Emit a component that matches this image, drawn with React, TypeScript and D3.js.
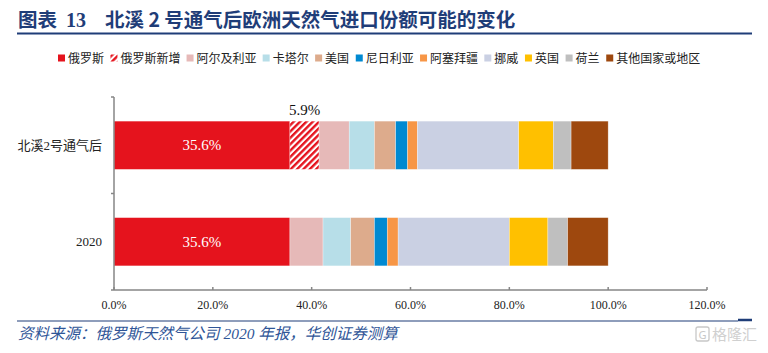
import React from 'react';
import * as d3 from 'd3';

const categories = ['北溪2号通气后', '2020'];
const seriesNames = ['俄罗斯', '俄罗斯新增', '阿尔及利亚', '卡塔尔', '美国', '尼日利亚', '阿塞拜疆', '挪威', '英国', '荷兰', '其他国家或地区'];
const afterValues = [35.6, 5.9, 6.1, 5.1, 4.3, 2.4, 2.0, 20.5, 7.0, 3.6, 7.5];
const values2020 = [35.6, 0, 6.7, 5.6, 4.8, 2.6, 2.2, 22.5, 7.8, 4.0, 8.2];
const xTicks = [0, 20, 40, 60, 80, 100, 120];

const colors = ['#E5131D', 'url(#hatch)', '#E6B9B8', '#B7DEE8', '#DDAB8C', '#0089D1', '#F79646', '#CAD0E3', '#FFC000', '#BFBFBF', '#9E480E'];

const serif = '"Liberation Serif", "Times New Roman", "Noto Sans CJK SC", serif';
const cjk = '"Liberation Serif", "Noto Sans CJK SC", serif';

export default function App() {
  const width = 768, height = 353;
  const margin = { left: 114, right: 61, top: 97, bottom: 63 };

  const x = d3.scaleLinear().domain([0, 120]).range([margin.left, width - margin.right]);
  const y = d3.scaleBand().domain(categories).range([margin.top, height - margin.bottom]).paddingInner(0.5).paddingOuter(0.25);

  const rows = categories.map((c, i) => {
    const vals = i === 0 ? afterValues : values2020;
    const row: any = { cat: c };
    seriesNames.forEach((s, j) => { row[s] = vals[j]; });
    return row;
  });
  const stacked = d3.stack().keys(seriesNames)(rows);

  // legend layout
  const legendFont = 12;
  let lx = 58;
  const legendItems = seriesNames.map((s, i) => {
    const item = { name: s, x: lx, color: colors[i] };
    lx += 7 + 3 + s.length * legendFont * 0.985 + 7;
    return item;
  });

  const axisBottom = y.range()[1];
  const axisTop = y.range()[0];

  return (
    <svg width={width} height={height} style={{ position: 'absolute', left: 0, top: 0, background: '#fff' }}>
      <defs>
        <pattern id="hatch" width="4.5" height="4.5" patternUnits="userSpaceOnUse" patternTransform="rotate(45)">
          <rect width="4.5" height="4.5" fill="#fff" />
          <rect width="2.4" height="4.5" fill="#E5131D" />
        </pattern>
      </defs>

      {/* title */}
      <text x={18} y={27} fontFamily='"Noto Sans CJK SC", sans-serif' fontWeight="bold" fontSize={19.5} fill="#1F3D78">图表</text>
      <text x={66} y={27} fontFamily={serif} fontWeight="bold" fontSize={20} fill="#1F3D78">13</text>
      <text x={105} y={27} fontFamily='"Noto Sans CJK SC", sans-serif' fontWeight="bold" fontSize={19.5} fill="#1F3D78">北溪 2 号通气后欧洲天然气进口份额可能的变化</text>
      <line x1={17} x2={752} y1={33.5} y2={33.5} stroke="#1F3D78" strokeWidth={2.2} />

      {/* legend */}
      {legendItems.map(d => (
        <g key={d.name}>
          <rect x={d.x} y={54.5} width={7} height={7} fill={d.color} />
          <text x={d.x + 10} y={62.5} fontSize={legendFont} fontFamily={cjk} fill="#222">{d.name}</text>
        </g>
      ))}

      {/* bars */}
      {stacked.map((layer, i) => (
        <g key={layer.key}>
          {layer.map((d: any, j) => (
            d[1] - d[0] > 0 ? (
              <rect key={j} x={x(d[0])} y={y(categories[j])} width={x(d[1]) - x(d[0])} height={y.bandwidth()}
                fill={colors[i]} stroke="#fff" strokeOpacity={0.5} strokeWidth={0.6} />
            ) : null
          ))}
        </g>
      ))}

      {/* data labels */}
      {categories.map((c, j) => (
        <text key={c} x={x(stacked[0][j][0] + (stacked[0][j][1] - stacked[0][j][0]) / 2)} y={(y(c) as number) + y.bandwidth() / 2 + 5}
          textAnchor="middle" fontSize={15} fontFamily={serif} fill="#fff">{(stacked[0][j][1] - stacked[0][j][0]).toFixed(1)}%</text>
      ))}
      <text x={x((stacked[1][0][0] + stacked[1][0][1]) / 2)} y={(y(categories[0]) as number) - 6}
        textAnchor="middle" fontSize={15} fontFamily={serif} fill="#111">{afterValues[1].toFixed(1)}%</text>

      {/* y axis */}
      <line x1={margin.left} x2={margin.left} y1={axisTop} y2={axisBottom} stroke="#868686" strokeWidth={1.5} />
      {[axisTop, axisTop + (axisBottom - axisTop) / 2, axisBottom].map((v, i) => (
        <line key={i} x1={margin.left - 3} x2={margin.left} y1={v} y2={v} stroke="#868686" strokeWidth={1.5} />
      ))}
      {categories.map(c => (
        <text key={c} x={102} y={(y(c) as number) + y.bandwidth() / 2 + 4.5} textAnchor="end" fontSize={13} fontFamily={cjk} fill="#222">{c}</text>
      ))}

      {/* x axis */}
      <line x1={x(0)} x2={x(120)} y1={axisBottom} y2={axisBottom} stroke="#868686" strokeWidth={1.5} />
      {xTicks.map(t => (
        <g key={t}>
          <line x1={x(t)} x2={x(t)} y1={axisBottom - 3} y2={axisBottom} stroke="#868686" strokeWidth={1.5} />
          <text x={x(t)} y={axisBottom + 19} textAnchor="middle" fontSize={12} fontFamily={serif} fill="#222">{t.toFixed(1)}%</text>
        </g>
      ))}

      {/* footer */}
      <line x1={17} x2={738} y1={321} y2={321} stroke="#1F3D78" strokeWidth={1.2} />
      <line x1={738} x2={752} y1={320} y2={320} stroke="#1F3D78" strokeWidth={2.5} />
      <text x={18} y={339} fontSize={15.5} fontStyle="italic" fontFamily={cjk} fill="#2F5597">资料来源：俄罗斯天然气公司 2020 年报，华创证券测算</text>

      {/* watermark */}
      <rect x={696} y={327} width={13} height={14} rx={2} fill="none" stroke="#C8C8C8" strokeWidth={1.3} />
      <text x={702.5} y={338.5} textAnchor="middle" fontSize={11} fontFamily='"Noto Sans", sans-serif' fill="#C8C8C8">G</text>
      <text x={712} y={340} fontSize={15} fontFamily='"Noto Sans CJK SC", sans-serif' fill="#D0D0D0">格隆汇</text>
    </svg>
  );
}
